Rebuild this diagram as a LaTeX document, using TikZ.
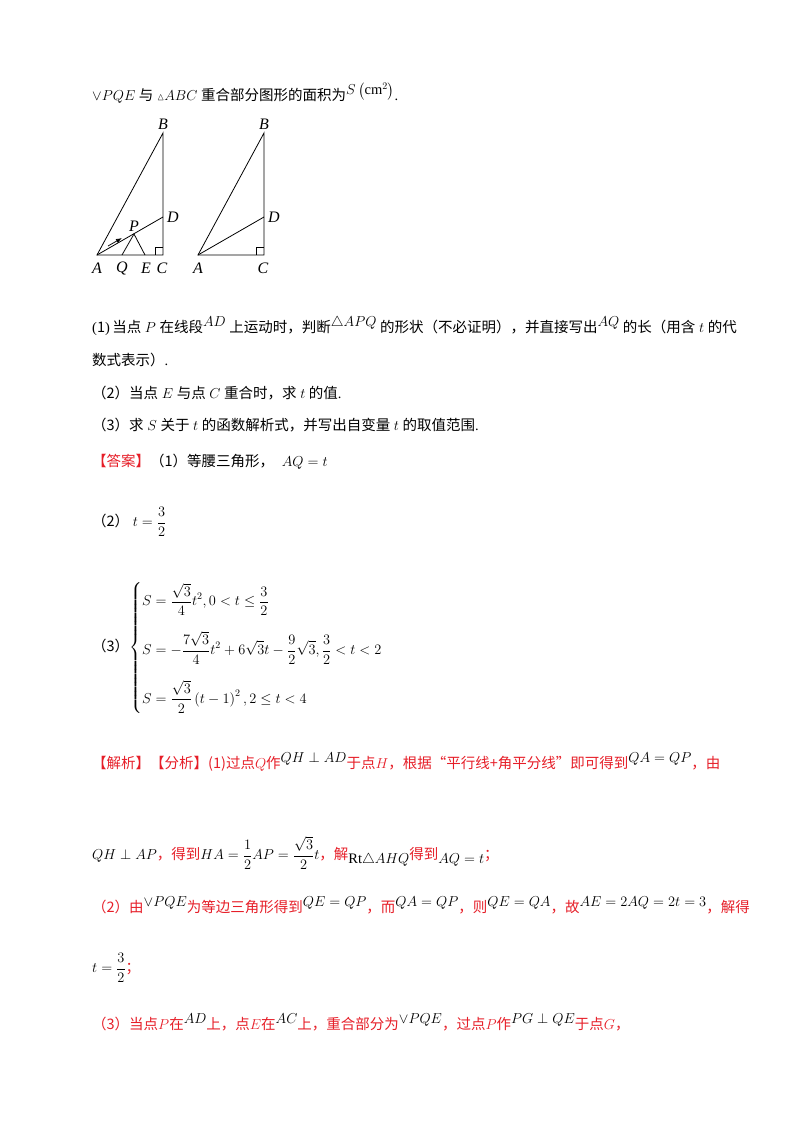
\documentclass[tikz,border=0pt]{standalone}
\usepackage{amsmath,amssymb}
\usepackage{fontspec}
\usetikzlibrary{arrows.meta}
\setmainfont{Liberation Serif}
\newfontfamily\cjk{Noto Sans CJK SC}
\definecolor{ansred}{RGB}{230,30,40}
\newcommand{\upm}[1]{\raisebox{6pt}{$#1$}}
\newcommand{\upk}[1]{\raisebox{6pt}{\color{black}$#1$}}
\newcommand{\dnm}[1]{\raisebox{-4pt}{\color{black}$#1$}}
\begin{document}
\begin{tikzpicture}[x=1pt,y=-1pt,
  txt/.style={anchor=west,inner sep=0pt,font=\fontsize{14.5}{17}\selectfont},
  rtxt/.style={txt,text=ansred},
  lbl/.style={inner sep=0pt,font=\fontsize{16}{18}\selectfont\itshape},
  seg/.style={line width=0.8pt}]
\useasboundingbox (0,0) rectangle (800,1132);
\node[txt] (l1) at (92,93) {$\vee PQE$ {\cjk 与} ${\scriptstyle\vartriangle}ABC$ {\cjk 重合部分图形的面积为}\upm{S\left(\mathrm{cm}^2\right)}.};
% figure 1
\coordinate (A) at (97,255); \coordinate (B) at (163,133); \coordinate (C) at (163,255);
\coordinate (D) at (163,217); \coordinate (Q) at (122,255); \coordinate (E) at (145,255);
\coordinate (P) at (134,234);
\draw[seg] (A) -- (B) -- (C) -- cycle;
\draw[seg] (A) -- (D);
\draw[seg] (Q) -- (P) -- (E);
\draw[seg] (155,255) -- (155,247) -- (163,247);
\coordinate (ar1) at (108,246); \coordinate (ar2) at (122,238);
\draw[seg,-{Latex[length=6pt]}] (ar1) -- (ar2);
\node[lbl] (lB) at (163,124) {B};
\node[lbl] (lD) at (173,217) {D};
\node[lbl] (lP) at (134,226) {P};
\node[lbl] (lA) at (97,268) {A};
\node[lbl] (lQ) at (122,268) {Q};
\node[lbl] (lE) at (146,268) {E};
\node[lbl] (lC) at (162,268) {C};
% figure 2
\coordinate (A2) at (198,255); \coordinate (B2) at (264,133); \coordinate (C2) at (264,255);
\coordinate (D2) at (264,217);
\draw[seg] (A2) -- (B2) -- (C2) -- cycle;
\draw[seg] (A2) -- (D2);
\draw[seg] (256,255) -- (256,247) -- (264,247);
\node[lbl] (lB2) at (264,124) {B};
\node[lbl] (lD2) at (274,217) {D};
\node[lbl] (lA2) at (198,268) {A};
\node[lbl] (lC2) at (263,268) {C};
% questions
\node[txt] (q1) at (92,326) {({\cjk 1})\,{\cjk 当点} $P$ {\cjk 在线段}\upm{AD} {\cjk 上运动时，判断}\upm{\triangle APQ} {\cjk 的形状（不必证明），并直接写出}\upm{AQ} {\cjk 的长（用含} $t$ {\cjk 的代}};
\node[txt] (q1b) at (92,360) {{\cjk 数式表示）}.};
\node[txt] (q2) at (92,393) {{\cjk （2）当点} $E$ {\cjk 与点} $C$ {\cjk 重合时，求} $t$ {\cjk 的值}.};
\node[txt] (q3) at (92,425) {{\cjk （3）求} $S$ {\cjk 关于} $t$ {\cjk 的函数解析式，并写出自变量} $t$ {\cjk 的取值范围}.};
% answers
\node[txt] (a1) at (92,462) {{\color{ansred}\cjk 【答案】}{\cjk （1）等腰三角形，}\; $AQ=t$};
\node[txt] (a2) at (92,522) {{\cjk （2）} $t=\dfrac{3}{2}$};
\node[txt] (a3) at (92,648) {{\cjk （3）}$\left\{\begin{aligned}
&S=\frac{\sqrt3}{4}t^2,0<t\le\frac32\\[12pt]
&S=-\frac{7\sqrt3}{4}t^2+6\sqrt3t-\frac92\sqrt3,\frac32<t<2\\[12pt]
&S=\frac{\sqrt3}{2}\left(t-1\right)^2,2\le t<4
\end{aligned}\right.$};
% analysis
\node[rtxt] (r1) at (92,762) {{\cjk 【解析】【分析】(1)过点}$Q${\cjk 作}\upk{QH\perp AD}{\cjk 于点}$H${\cjk ，根据“平行线+角平分线”即可得到}\upk{QA=QP}{\cjk ，由}};
\node[txt] (r2) at (92,853) {$QH\perp AP${\color{ansred}\cjk ，得到}$HA=\dfrac12AP=\dfrac{\sqrt3}{2}t${\color{ansred}\cjk ，解}\dnm{\mathrm{Rt}\triangle AHQ}{\color{ansred}\cjk 得到}\dnm{AQ=t}{\color{ansred}\cjk ；}};
\node[rtxt] (r3) at (92,905) {{\cjk （2）由}\upk{\vee PQE}{\cjk 为等边三角形得到}\upk{QE=QP}{\cjk ，而}\upk{QA=QP}{\cjk ，则}\upk{QE=QA}{\cjk ，故}\upk{AE=2AQ=2t=3}{\cjk ，解得}};
\node[txt] (r4) at (92,968) {$t=\dfrac32${\color{ansred}\cjk ；}};
\node[rtxt] (r5) at (92,1022) {{\cjk （3）当点}$P${\cjk 在}\upk{AD}{\cjk 上，点}$E${\cjk 在}\upk{AC}{\cjk 上，重合部分为}\upk{\vee PQE}{\cjk ，过点}$P${\cjk 作}\upk{PG\perp QE}{\cjk 于点}$G${\cjk ，}};
\end{tikzpicture}
\end{document}
